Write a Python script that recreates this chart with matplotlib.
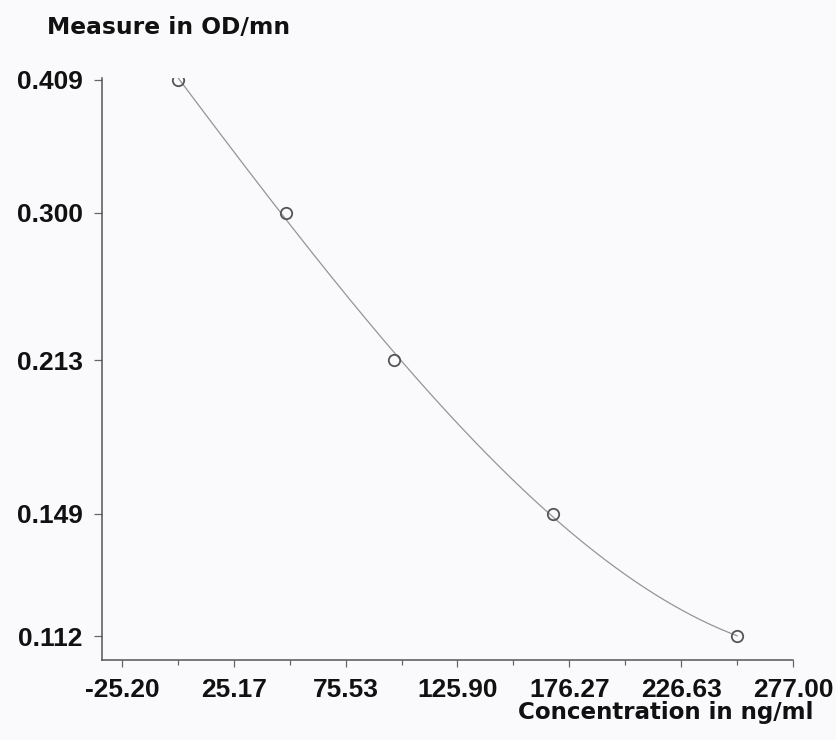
import numpy as np
import matplotlib
matplotlib.use("Agg")
import matplotlib.pyplot as plt
from matplotlib.ticker import FixedLocator, FixedFormatter, NullLocator

# Data
concentration = [0.0, 48.6, 97.5, 168.8, 251.8]      # ng/ml
measure = [0.409, 0.300, 0.213, 0.149, 0.112]         # OD/mn
x_tick_values = [-25.20, 25.17, 75.53, 125.90, 176.27, 226.63, 277.00]
x_tick_labels = ["-25.20", "25.17", "75.53", "125.90", "176.27", "226.63", "277.00"]
y_tick_values = [0.409, 0.300, 0.213, 0.149, 0.112]
y_tick_labels = ["0.409", "0.300", "0.213", "0.149", "0.112"]

plt.rcParams['font.family'] = ['Liberation Sans', 'DejaVu Sans']
plt.rcParams['font.weight'] = 'bold'

W, H = 837, 740
fig = plt.figure(figsize=(W / 100, H / 100), dpi=100, facecolor='#fafafc')
ax = fig.add_axes([102 / W, 1 - 660 / H, (793 - 102) / W, (660 - 78) / H])
ax.set_facecolor('#fafafc')

ax.set_yscale('log')
ax.set_xlim(-34.2, 277.0)
ax.set_ylim(0.106, 0.4105)

# smooth fitted curve (fit in log space, from the data)
cx = np.array(concentration)
cy = np.log10(np.array(measure))
coef = np.polyfit(cx, cy, 3)
xs = np.linspace(cx.min(), cx.max(), 300)
ax.plot(xs, 10 ** np.polyval(coef, xs), color='#959595', lw=0.9, zorder=2)

ax.plot(concentration, measure, linestyle='none', marker='o', ms=8.2,
        mfc='none', mec='#555555', mew=1.3, zorder=3)

for s in ['top', 'right']:
    ax.spines[s].set_visible(False)
for s in ['left', 'bottom']:
    ax.spines[s].set_color('#555555')
    ax.spines[s].set_linewidth(1.1)

ax.xaxis.set_major_locator(FixedLocator(x_tick_values))
ax.xaxis.set_major_formatter(FixedFormatter(x_tick_labels))
minor_x = [(a + b) / 2 for a, b in zip(x_tick_values[:-1], x_tick_values[1:])]
ax.xaxis.set_minor_locator(FixedLocator(minor_x))
ax.yaxis.set_major_locator(FixedLocator(y_tick_values))
ax.yaxis.set_major_formatter(FixedFormatter(y_tick_labels))
ax.yaxis.set_minor_locator(NullLocator())

ax.tick_params(axis='x', which='major', direction='out', length=5, width=0.9,
               color='#666666', pad=8, labelsize=19, labelcolor='#111111')
ax.tick_params(axis='x', which='minor', direction='out', length=3.5, width=0.9,
               color='#666666')
ax.tick_params(axis='y', which='major', direction='out', length=6, width=0.9,
               color='#666666', pad=8, labelsize=19, labelcolor='#111111')
for lab in ax.get_xticklabels() + ax.get_yticklabels():
    lab.set_fontweight('bold')

fig.text(47 / W, 1 - 34 / H, "Measure in OD/mn", ha='left', va='baseline',
         fontsize=16.8, fontweight='bold', color='#111111',
         family=['DejaVu Sans'])
fig.text(813 / W, 1 - 719 / H, "Concentration in ng/ml", ha='right', va='baseline',
         fontsize=16.6, fontweight='bold', color='#111111',
         family=['DejaVu Sans'])

fig.savefig('out.png', dpi=100, facecolor=fig.get_facecolor())
